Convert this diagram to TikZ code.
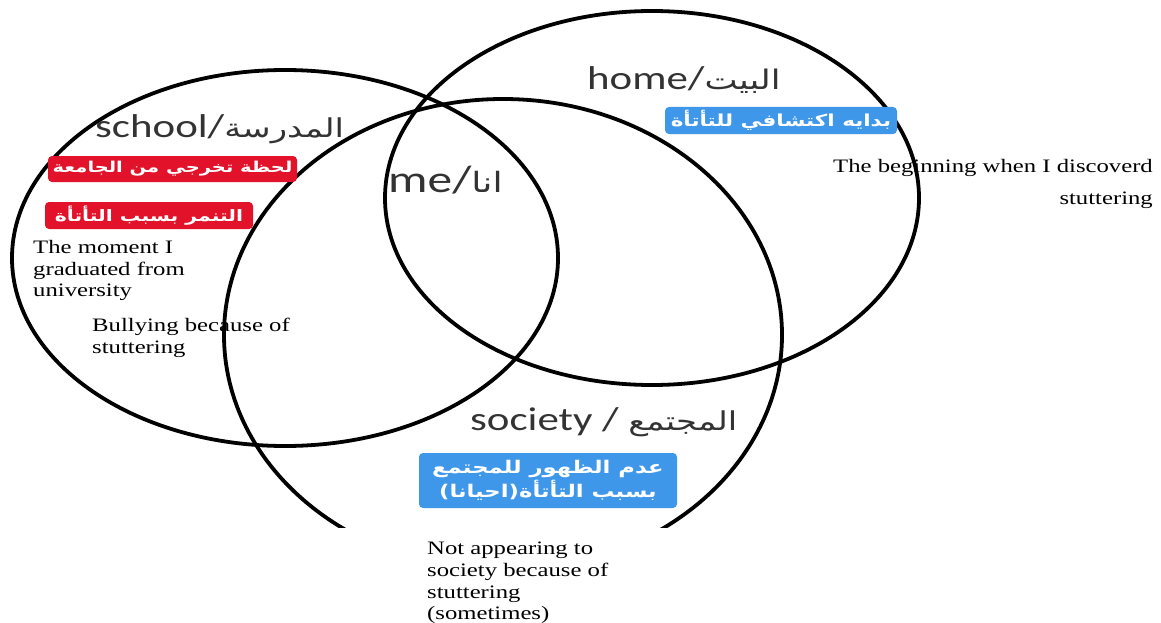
\documentclass[tikz,border=0pt]{standalone}
\usepackage{graphicx}
\usepackage{fontspec}
\setmainfont{Liberation Serif}
\newfontfamily\lab{Carlito}
\newfontfamily\arab[Script=Arabic]{DejaVu Sans}
\TeXXeTstate=1
\definecolor{tagred}{HTML}{E3122B}
\definecolor{tagblue}{HTML}{3F97EA}
\definecolor{labgray}{HTML}{333333}
% text is set a little wider than the font's natural shape
\newcommand{\wide}[1]{\scalebox{1.3}[1]{#1}}
\newcommand{\ar}[2]{{\arab\fontsize{#1}{#1}\selectfont #2}}
% bold white Arabic line for the coloured tags
\newcommand{\tagline}[2]{\wide{\fontsize{#1}{#1}\selectfont #2}}
\begin{document}
\begin{tikzpicture}[x=1pt,y=-1pt,
  ring/.style={line width=3.8pt},
  tag/.style={rounded corners=4pt, text=white, inner sep=0pt, align=center,
    font=\arab\bfseries},
  redtag/.style={tag, fill=tagred},
  bluetag/.style={tag, fill=tagblue},
  circlabel/.style={anchor=base west, inner sep=0pt, text=labgray,
    font=\lab\fontsize{33}{36}\selectfont},
  note/.style={inner sep=0pt, font=\fontsize{19}{21.7}\selectfont}]
\useasboundingbox (0,0) rectangle (1161,623);
\fill[white] (0,0) rectangle (1161,623);

% the three circles of the diagram
\draw[ring] (285,258) ellipse [x radius=273pt, y radius=188pt];
\draw[ring] (652,198) ellipse [x radius=267pt, y radius=187pt];
\begin{scope}
  \clip (0,0) rectangle (1161,527);
  \draw[ring] (503,335) ellipse [x radius=279pt, y radius=236pt];
\end{scope}

% circle titles
\node[circlabel] (school) at (95,137) {\wide{school/\ar{26}{\beginR المدرسة\endR}}};
\node[circlabel] (home) at (587,90) {\wide{home/\ar{27}{\beginR البيت\endR}}};
\node[circlabel, font=\lab\fontsize{38}{40}\selectfont] (me) at (388,192) {\wide{me/\ar{28}{\beginR انا\endR}}};
\node[circlabel] (society) at (470,430) {\wide{society / \ar{26}{\beginR المجتمع\endR}}};

% coloured tags
\node[redtag, minimum width=249pt, minimum height=26pt] (grad) at (172.5,169)
  {\tagline{15}{\beginR لحظة تخرجي من الجامعة\endR}};
\node[redtag, minimum width=208pt, minimum height=27pt] (bully) at (149,215.5)
  {\tagline{15.7}{\beginR التنمر بسبب التأتأة\endR}};
\node[bluetag, minimum width=232pt, minimum height=27pt] (discover) at (781,120.5)
  {\tagline{16.5}{\beginR بدايه اكتشافي للتأتأة\endR}};
\node[bluetag, minimum width=258pt, minimum height=55pt] (hide) at (548,480.5)
  {\tagline{17.5}{\beginR عدم الظهور للمجتمع\endR}\\[1pt]\tagline{17.5}{\beginR بسبب التأتأة(احيانا)\endR}};

% English notes
\node[note, anchor=north west, align=left] (gradnote) at (33,240)
  {\wide{The moment I}\\\wide{graduated from}\\\wide{university}};
\node[note, anchor=north west, align=left] (bullynote) at (92,318)
  {\wide{Bullying because of}\\\wide{stuttering}};
\node[note, anchor=north east, align=right] (discnote) at (1153,159)
  {\wide{The beginning when I discoverd}\\[10pt]\wide{stuttering}};
\node[note, anchor=north west, align=left] (hidenote) at (427,542)
  {\wide{Not appearing to}\\\wide{society because of}\\\wide{stuttering}\\\wide{(sometimes)}};
\end{tikzpicture}
\end{document}
